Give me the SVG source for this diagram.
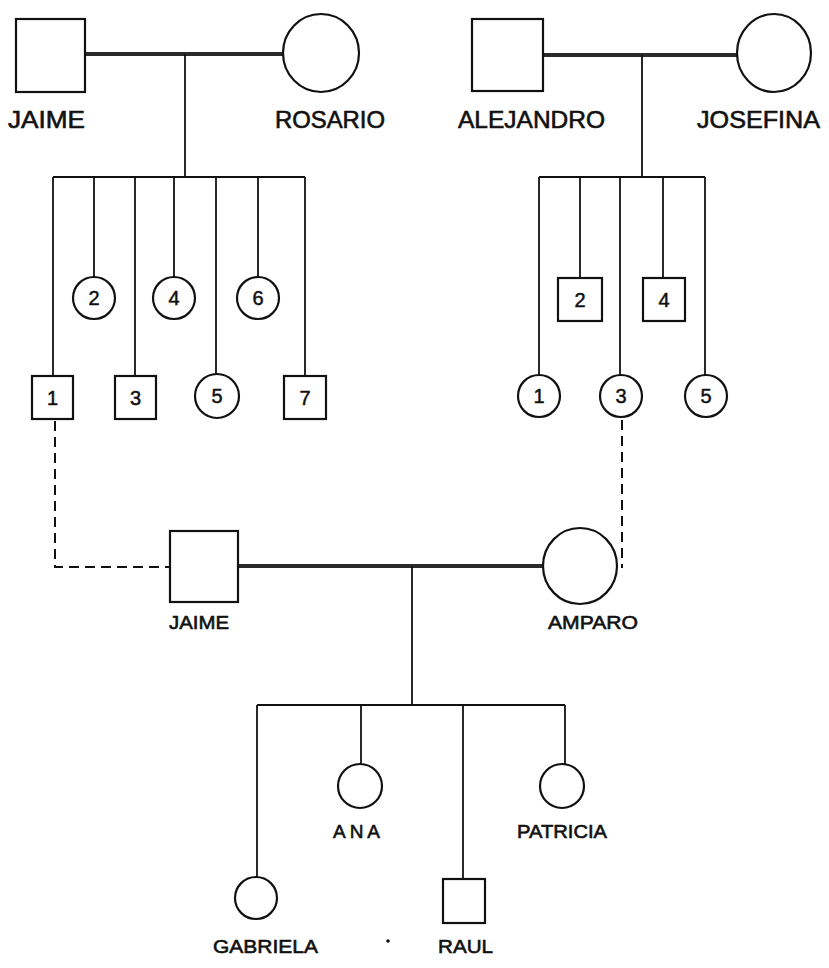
<svg xmlns="http://www.w3.org/2000/svg" width="829" height="968" viewBox="0 0 829 968">
<style>
.shape{fill:none;stroke:#111;stroke-width:2.2}
.line{fill:none;stroke:#111;stroke-width:1.8}
.mar{fill:none;stroke:#2a2a2a;stroke-width:4}
.dash{fill:none;stroke:#111;stroke-width:2;stroke-dasharray:10 6}
.lbl{font-family:"Liberation Sans",Arial,sans-serif;font-weight:normal;fill:#111;stroke:#111;stroke-width:0.6}
.big{font-size:24px}
.sm{font-size:19px}
.num{font-family:"Liberation Sans",Arial,sans-serif;font-size:20px;font-weight:normal;fill:#111;stroke:#111;stroke-width:0.5;text-anchor:middle}
</style>
<rect width="829" height="968" fill="#fff"/>
<g id="connectors">
<line class="mar" x1="85" y1="54" x2="283" y2="54"/>
<line class="line" x1="185" y1="54" x2="185" y2="177"/>
<line class="line" x1="53" y1="177" x2="305" y2="177"/>
<line class="line" x1="53" y1="177" x2="53" y2="376"/>
<line class="line" x1="94" y1="177" x2="94" y2="277"/>
<line class="line" x1="135" y1="177" x2="135" y2="376"/>
<line class="line" x1="174" y1="177" x2="174" y2="277"/>
<line class="line" x1="216" y1="177" x2="216" y2="374"/>
<line class="line" x1="258" y1="177" x2="258" y2="277"/>
<line class="line" x1="305" y1="177" x2="305" y2="376"/>
<line class="mar" x1="543" y1="55" x2="737" y2="55"/>
<line class="line" x1="642" y1="55" x2="642" y2="177"/>
<line class="line" x1="539" y1="177" x2="705" y2="177"/>
<line class="line" x1="539" y1="177" x2="539" y2="375"/>
<line class="line" x1="580" y1="177" x2="580" y2="278"/>
<line class="line" x1="620" y1="177" x2="620" y2="375"/>
<line class="line" x1="663" y1="177" x2="663" y2="278"/>
<line class="line" x1="705" y1="177" x2="705" y2="375"/>
<path class="dash" d="M55,421 V567 H170"/>
<path class="dash" d="M622,420 V568"/>
<line class="mar" x1="238" y1="566" x2="543" y2="566"/>
<line class="line" x1="412" y1="566" x2="412" y2="705"/>
<line class="line" x1="257" y1="705" x2="565" y2="705"/>
<line class="line" x1="257" y1="705" x2="257" y2="877"/>
<line class="line" x1="361" y1="705" x2="361" y2="764"/>
<line class="line" x1="463" y1="705" x2="463" y2="879"/>
<line class="line" x1="565" y1="705" x2="565" y2="764"/>
</g>
<g id="jaime-top"><rect class="shape" x="16" y="19" width="69" height="73"/><text class="lbl big" x="8" y="128" textLength="77" lengthAdjust="spacingAndGlyphs">JAIME</text></g>
<g id="rosario"><ellipse class="shape" cx="321" cy="53" rx="38" ry="39"/><text class="lbl big" x="275" y="128" textLength="110" lengthAdjust="spacingAndGlyphs">ROSARIO</text></g>
<g id="alejandro"><rect class="shape" x="472" y="19" width="71" height="72"/><text class="lbl big" x="458" y="128" textLength="147" lengthAdjust="spacingAndGlyphs">ALEJANDRO</text></g>
<g id="josefina"><ellipse class="shape" cx="774" cy="53" rx="37" ry="39"/><text class="lbl big" x="697" y="128" textLength="123" lengthAdjust="spacingAndGlyphs">JOSEFINA</text></g>
<g id="l1"><rect class="shape" x="32" y="376" width="41" height="43"/><text class="num" x="52.5" y="405">1</text></g>
<g id="l2"><circle class="shape" cx="94" cy="298" r="21"/><text class="num" x="94" y="305">2</text></g>
<g id="l3"><rect class="shape" x="115" y="376" width="41" height="43"/><text class="num" x="135.5" y="405">3</text></g>
<g id="l4"><circle class="shape" cx="174" cy="298" r="21"/><text class="num" x="174" y="305">4</text></g>
<g id="l5"><circle class="shape" cx="217" cy="396" r="22"/><text class="num" x="217" y="403">5</text></g>
<g id="l6"><circle class="shape" cx="258" cy="298" r="21"/><text class="num" x="258" y="305">6</text></g>
<g id="l7"><rect class="shape" x="284" y="376" width="42" height="43"/><text class="num" x="305" y="405">7</text></g>
<g id="r1"><circle class="shape" cx="539" cy="396" r="21"/><text class="num" x="539" y="403">1</text></g>
<g id="r2"><rect class="shape" x="558" y="278" width="44" height="43"/><text class="num" x="580" y="307">2</text></g>
<g id="r3"><circle class="shape" cx="621" cy="396" r="21"/><text class="num" x="621" y="403">3</text></g>
<g id="r4"><rect class="shape" x="643" y="278" width="42" height="43"/><text class="num" x="664" y="307">4</text></g>
<g id="r5"><circle class="shape" cx="706" cy="396" r="21"/><text class="num" x="706" y="403">5</text></g>
<g id="jaime"><rect class="shape" x="170" y="531" width="68" height="71"/><text class="lbl sm" x="169" y="629" textLength="60" lengthAdjust="spacingAndGlyphs">JAIME</text></g>
<g id="amparo"><ellipse class="shape" cx="580" cy="566" rx="37" ry="38"/><text class="lbl sm" x="548" y="629" textLength="90" lengthAdjust="spacingAndGlyphs">AMPARO</text></g>
<g id="gabriela"><circle class="shape" cx="256" cy="898" r="21"/><text class="lbl sm" x="213" y="953" textLength="105" lengthAdjust="spacingAndGlyphs">GABRIELA</text></g>
<g id="ana"><circle class="shape" cx="360" cy="786" r="22"/><text class="lbl sm" x="333" y="838" textLength="47" lengthAdjust="spacing">ANA</text></g>
<g id="raul"><rect class="shape" x="443" y="879" width="42" height="44"/><text class="lbl sm" x="438" y="953" textLength="55" lengthAdjust="spacingAndGlyphs">RAUL</text></g>
<g id="patricia"><circle class="shape" cx="562" cy="786" r="22"/><text class="lbl sm" x="517" y="838" textLength="90" lengthAdjust="spacingAndGlyphs">PATRICIA</text></g>
<circle cx="388" cy="941" r="1.8" fill="#111"/>
</svg>
